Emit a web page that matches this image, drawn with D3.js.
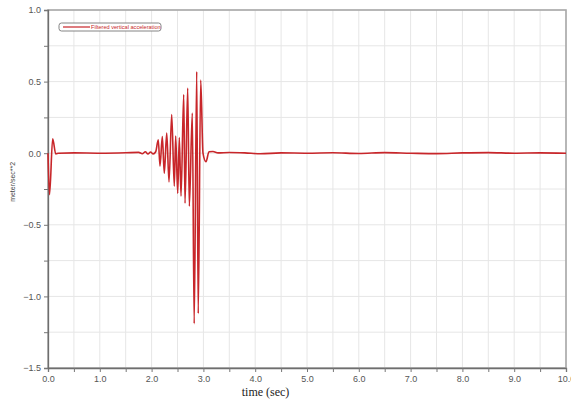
<!DOCTYPE html>
<html>
<head>
<meta charset="utf-8">
<script src="https://cdn.jsdelivr.net/npm/d3@7"></script>
<style>
  html, body { margin: 0; padding: 0; background: #fff; }
  svg { display: block; }
</style>
</head>
<body>
<svg id="chart" width="571" height="404"></svg>
<script>
// Filtered vertical acceleration record (time in seconds, acceleration in m/s^2)
const timeSec = [
  0.00, 0.03, 0.09, 0.15, 0.20, 0.50, 1.00, 1.50, 1.75, 1.82, 1.88, 1.93, 1.98, 2.03,
  2.079, 2.129, 2.162, 2.207, 2.245, 2.292, 2.336, 2.388, 2.438, 2.465, 2.504, 2.535,
  2.568, 2.620, 2.645, 2.697, 2.728, 2.786, 2.822, 2.871, 2.900, 2.948, 2.992, 3.050,
  3.108, 3.185, 3.282, 3.50, 3.80, 4.10, 4.50, 5.00, 5.50, 6.00, 6.50, 7.00, 7.50,
  8.00, 8.50, 9.00, 9.50, 10.00
];
const accel = [
  0.000, -0.290, 0.100, -0.005, 0.000, 0.002, 0.000, 0.003, 0.006, -0.004, 0.010, -0.006, 0.008, -0.005,
  0.010, 0.094, -0.090, 0.117, -0.140, 0.140, -0.200, 0.270, -0.230, 0.120, -0.280, 0.110,
  -0.300, 0.410, -0.350, 0.455, -0.370, 0.280, -1.190, 0.570, -1.120, 0.510, 0.000, -0.060,
  0.010, 0.012, 0.002, 0.005, 0.002, -0.004, 0.002, 0.000, 0.003, -0.002, 0.004, 0.000, -0.003,
  0.002, 0.004, 0.000, 0.002, 0.000
];

// Axis ticks
const xMajorTicks = [0, 1, 2, 3, 4, 5, 6, 7, 8, 9, 10];
const xMinorTicks = [0.5, 1.5, 2.5, 3.5, 4.5, 5.5, 6.5, 7.5, 8.5, 9.5];
const yMajorTicks = [-1.5, -1.0, -0.5, 0.0, 0.5, 1.0];
const yMinorTicks = [-1.25, -0.75, -0.25, 0.25, 0.75];

const seriesName = "Filtered vertical acceleration";
const xTitle = "time (sec)";
const yTitle = "meter/sec**2";

const W = 571, H = 404;
const margin = { top: 10, right: 5, bottom: 36, left: 48 };
const iw = W - margin.left - margin.right;
const ih = H - margin.top - margin.bottom;

const svg = d3.select("#chart");
const g = svg.append("g").attr("transform", `translate(${margin.left},${margin.top})`);

const x = d3.scaleLinear().domain([0, 10]).range([0, iw]);
const y = d3.scaleLinear().domain([-1.5, 1.0]).range([ih, 0]);

// Grid
const gridColor = "#e6e6e6";
g.append("g").selectAll("line.vg")
  .data(xMajorTicks.concat(xMinorTicks))
  .join("line")
  .attr("x1", d => x(d)).attr("x2", d => x(d))
  .attr("y1", 0).attr("y2", ih)
  .attr("stroke", gridColor).attr("stroke-width", 1);
g.append("g").selectAll("line.hg")
  .data(yMajorTicks.concat(yMinorTicks))
  .join("line")
  .attr("x1", 0).attr("x2", iw)
  .attr("y1", d => y(d)).attr("y2", d => y(d))
  .attr("stroke", gridColor).attr("stroke-width", 1);

// Frame (top and right)
g.append("rect")
  .attr("x", 0).attr("y", 0).attr("width", iw).attr("height", ih)
  .attr("fill", "none").attr("stroke", "#a8a8a8").attr("stroke-width", 1.6);

// Axes
const fmt = d3.format(".1f");
const xAxis = d3.axisBottom(x).tickValues(xMajorTicks.concat(xMinorTicks))
  .tickFormat(d => Number.isInteger(d) ? fmt(d) : "")
  .tickSize(4).tickPadding(4);
const yAxis = d3.axisLeft(y).tickValues(yMajorTicks.concat(yMinorTicks))
  .tickFormat(d => yMajorTicks.includes(d) ? fmt(d) : "")
  .tickSize(4).tickPadding(3);

const gx = g.append("g").attr("transform", `translate(0,${ih})`).call(xAxis);
const gy = g.append("g").call(yAxis);
[gx, gy].forEach(a => {
  a.select(".domain").attr("stroke", "#6e6e6e").attr("stroke-width", 1.3);
  a.selectAll(".tick line").attr("stroke", "#777");
  a.selectAll(".tick text")
    .attr("fill", "#555")
    .style("font-family", "'Liberation Sans', Arial, sans-serif")
    .style("font-size", "9px");
});

// Series
const data = timeSec.map((t, i) => ({ t, v: accel[i] }));
const line = d3.line()
  .x(d => x(d.t))
  .y(d => y(d.v))
  .curve(d3.curveMonotoneX);
g.append("path")
  .datum(data)
  .attr("d", line)
  .attr("fill", "none")
  .attr("stroke", "#c8262a")
  .attr("stroke-width", 1.6)
  .attr("stroke-linejoin", "round");

// Legend
const lg = g.append("g").attr("transform", "translate(11,13)");
lg.append("rect")
  .attr("x", 0).attr("y", 0).attr("width", 102).attr("height", 8)
  .attr("rx", 2.5).attr("ry", 2.5)
  .attr("fill", "#fff").attr("stroke", "#777").attr("stroke-width", 0.9);
lg.append("line")
  .attr("x1", 4).attr("x2", 31).attr("y1", 4).attr("y2", 4)
  .attr("stroke", "#c8262a").attr("stroke-width", 1.2);
lg.append("text")
  .attr("x", 32).attr("y", 6.2)
  .attr("fill", "#c8262a")
  .style("font-family", "'Liberation Sans', Arial, sans-serif")
  .style("font-size", "5.6px")
  .text(seriesName);

// Axis titles
svg.append("text")
  .attr("x", margin.left + x(4.2)).attr("y", 396)
  .attr("text-anchor", "middle")
  .attr("fill", "#222")
  .style("font-family", "'Liberation Serif', 'Times New Roman', serif")
  .style("font-size", "12px")
  .text(xTitle);

svg.append("text")
  .attr("transform", `translate(15,${margin.top + y(-0.2)}) rotate(-90)`)
  .attr("text-anchor", "middle")
  .attr("fill", "#444")
  .style("font-family", "'Liberation Sans', Arial, sans-serif")
  .style("font-size", "7px")
  .text(yTitle);
</script>
</body>
</html>
